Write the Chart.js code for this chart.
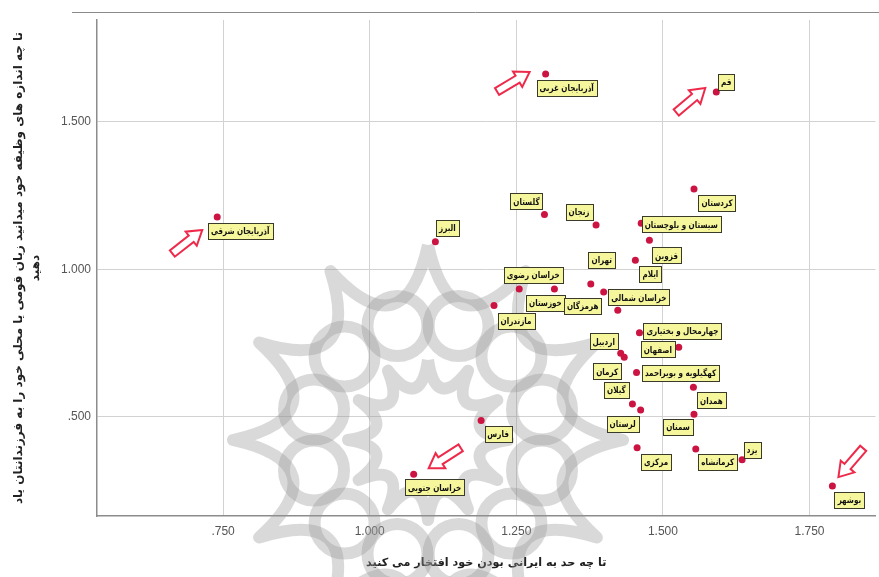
<!DOCTYPE html>
<html>
<head>
<meta charset="utf-8">
<title>نمودار پراکندگی استان‌ها</title>
<script src="https://cdn.jsdelivr.net/npm/chart.js"></script>
<style>
  html, body { margin: 0; padding: 0; background: #fff; }
</style>
</head>
<body>
<canvas id="scatterChart" width="879" height="577"></canvas>
<script>
// استان ها و مقادیر (خوانده شده از نمودار)
const provinces = [
  'آذربایجان غربی', 'قم', 'آذربایجان شرقی', 'البرز', 'گلستان', 'زنجان',
  'کردستان', 'سیستان و بلوچستان', 'قزوین', 'ایلام', 'تهران', 'خراسان رضوی',
  'خوزستان', 'هرمزگان', 'خراسان شمالی', 'مازندران', 'چهارمحال و بختیاری', 'اصفهان',
  'اردبیل', 'کرمان', 'کهگیلویه و بویراحمد', 'همدان', 'گیلان', 'لرستان',
  'سمنان', 'فارس', 'مرکزی', 'کرمانشاه', 'یزد', 'بوشهر', 'خراسان جنوبی'
];
// تا چه حد به ایرانی بودن خود افتخار می کنید
const prideValues = [
  1.300, 1.591, 0.740, 1.112, 1.298, 1.386,
  1.553, 1.463, 1.477, 1.453, 1.377, 1.255,
  1.315, 1.399, 1.423, 1.212, 1.460, 1.527,
  1.428, 1.434, 1.455, 1.552, 1.448, 1.462,
  1.553, 1.190, 1.456, 1.556, 1.635, 1.789, 1.075
];
// زبان قومی یا محلی
const languageValues = [
  1.662, 1.601, 1.177, 1.093, 1.186, 1.150,
  1.272, 1.156, 1.098, 1.031, 0.950, 0.933,
  0.933, 0.923, 0.861, 0.877, 0.785, 0.736,
  0.715, 0.702, 0.650, 0.600, 0.543, 0.523,
  0.509, 0.487, 0.395, 0.391, 0.354, 0.265, 0.305
];
const xTickValues = [0.75, 1.0, 1.25, 1.5, 1.75];
const xTickLabels = ['.750', '1.000', '1.250', '1.500', '1.750'];
const yTickValues = [0.5, 1.0, 1.5];
const yTickLabels = ['.500', '1.000', '1.500'];
const xTitle = 'تا چه حد به ایرانی بودن خود افتخار می کنید';
const yTitle = ['تا چه اندازه های وظیفه خود میدانید زبان قومی یا محلی خود را به فرزندانتان یاد', 'دهید'];
// استان هایی که با فلش مشخص شده اند
const arrowProvinces = ['آذربایجان غربی', 'قم', 'آذربایجان شرقی', 'خراسان جنوبی', 'بوشهر'];

// جابجایی برچسب ها نسبت به نقطه (پیکسل)
const labelShift = [
  [21, 14], [10, -10], [23, 14], [12, -14], [-18, -13], [-17, -13],
  [23, 14], [40, 1], [17, 15], [15, 14], [11, -24], [14, -14],
  [-9, 14], [-21, 14], [21, -13], [22, 15], [43, -2], [-21, 2],
  [-17, -12], [-17, 14], [44, 0], [18, 13], [-16, -14], [-18, 14],
  [-16, 13], [17, 13], [19, 14], [22, 13], [10, -10], [17, 14], [21, 13]
];
// فلش ها: نوک نسبت به نقطه و جهت
const arrowShape = {
  'آذربایجان غربی': { tip: [-16, -2], dir: [30, -18] },
  'قم': { tip: [-11, -4], dir: [26, -22] },
  'آذربایجان شرقی': { tip: [-15, 13], dir: [28, -22] },
  'خراسان جنوبی': { tip: [15, -6], dir: [-28, 18] },
  'بوشهر': { tip: [6, -9], dir: [-25, 29] }
};

const points = prideValues.map((x, i) => ({ x: x, y: languageValues[i] }));

const frameLine = {
  id: 'frameLine',
  beforeDraw(chart) {
    const ctx = chart.ctx;
    ctx.save();
    ctx.strokeStyle = '#8a8a8a';
    ctx.lineWidth = 1;
    ctx.beginPath();
    ctx.moveTo(72, 12.5);
    ctx.lineTo(879, 12.5);
    ctx.stroke();
    ctx.restore();
  }
};

// واترمارک خاکستری (گل اسلیمی)
const watermark = {
  id: 'watermark',
  beforeDatasetsDraw(chart) {
    const ctx = chart.ctx;
    const cx = 428, cy = 440, R = 195;
    ctx.save();
    ctx.strokeStyle = 'rgba(150,150,150,0.36)';
    ctx.lineWidth = 12;
    ctx.lineJoin = 'round';
    ctx.beginPath();
    for (let k = 0; k < 12; k++) {
      const a1 = -Math.PI / 2 + k * Math.PI / 6;
      const a2 = a1 + Math.PI / 6;
      const am = a1 + Math.PI / 12;
      const p1 = [cx + R * Math.cos(a1), cy + R * Math.sin(a1)];
      const p2 = [cx + R * Math.cos(a2), cy + R * Math.sin(a2)];
      if (k === 0) ctx.moveTo(p1[0], p1[1]);
      ctx.quadraticCurveTo(cx + 92 * Math.cos(am), cy + 92 * Math.sin(am), p2[0], p2[1]);
    }
    ctx.stroke();
    for (let k = 0; k < 12; k++) {
      const a = -Math.PI / 2 + Math.PI / 12 + k * Math.PI / 6;
      ctx.beginPath();
      ctx.arc(cx + 118 * Math.cos(a), cy + 118 * Math.sin(a), 30, 0, Math.PI * 2);
      ctx.stroke();
    }
    ctx.beginPath();
    for (let k = 0; k < 12; k++) {
      const a1 = -Math.PI / 2 + k * Math.PI / 6;
      const a2 = a1 + Math.PI / 6;
      const am = a1 + Math.PI / 12;
      const r = 80;
      const p1 = [cx + r * Math.cos(a1), cy + r * Math.sin(a1)];
      const p2 = [cx + r * Math.cos(a2), cy + r * Math.sin(a2)];
      if (k === 0) ctx.moveTo(p1[0], p1[1]);
      ctx.quadraticCurveTo(cx + 30 * Math.cos(am), cy + 30 * Math.sin(am), p2[0], p2[1]);
    }
    ctx.stroke();
    ctx.restore();
  }
};

const pointLabels = {
  id: 'pointLabels',
  afterDatasetsDraw(chart) {
    const ctx = chart.ctx;
    const meta = chart.getDatasetMeta(0);
    const squeeze = 0.8;
    ctx.save();
    ctx.font = 'bold 9px "DejaVu Sans"';
    ctx.textAlign = 'center';
    ctx.textBaseline = 'middle';
    meta.data.forEach((el, i) => {
      const cx = el.x + labelShift[i][0];
      const cy = el.y + labelShift[i][1];
      const w = Math.round(ctx.measureText(provinces[i]).width * squeeze + 6);
      const h = 16;
      const bx = Math.round(cx - w / 2) + 0.5, by = Math.round(cy - h / 2) + 0.5;
      ctx.fillStyle = '#f6f69c';
      ctx.fillRect(bx, by, w, h);
      ctx.strokeStyle = '#3a3a2a';
      ctx.lineWidth = 1;
      ctx.strokeRect(bx, by, w, h);
      ctx.save();
      ctx.translate(cx, cy + 1);
      ctx.scale(squeeze, 1);
      ctx.fillStyle = '#111';
      ctx.fillText(provinces[i], 0, 0);
      ctx.restore();
    });

    // فلش های قرمز
    ctx.strokeStyle = '#ee2a4a';
    ctx.lineWidth = 2;
    ctx.fillStyle = '#fff';
    arrowProvinces.forEach(name => {
      const i = provinces.indexOf(name);
      const el = meta.data[i];
      const s = arrowShape[name];
      const tx = el.x + s.tip[0], ty = el.y + s.tip[1];
      const ang = Math.atan2(s.dir[1], s.dir[0]);
      const L = 38;
      ctx.save();
      ctx.translate(tx, ty);
      ctx.rotate(ang);
      ctx.beginPath();
      ctx.moveTo(0, 0);
      ctx.lineTo(-14, -9);
      ctx.lineTo(-14, -4);
      ctx.lineTo(-L, -4);
      ctx.lineTo(-L, 4);
      ctx.lineTo(-14, 4);
      ctx.lineTo(-14, 9);
      ctx.closePath();
      ctx.fill();
      ctx.stroke();
      ctx.restore();
    });
    ctx.restore();
  }
};

new Chart(document.getElementById('scatterChart'), {
  type: 'scatter',
  data: {
    datasets: [{
      data: points,
      backgroundColor: '#cc1443',
      borderWidth: 0,
      pointRadius: 3.5,
      pointHoverRadius: 3.5
    }]
  },
  options: {
    responsive: false,
    animation: false,
    events: [],
    layout: { padding: { top: 20, right: 0, bottom: 0, left: 0 } },
    plugins: { legend: { display: false }, tooltip: { enabled: false } },
    scales: {
      x: {
        type: 'linear',
        min: 0.535,
        max: 1.8625,
        afterBuildTicks: s => { s.ticks = xTickValues.map(v => ({ value: v })); },
        afterFit: s => { s.height = 61; },
        grid: { color: '#d2d2d2', drawTicks: false },
        border: { color: '#8c8c8c', width: 1.5 },
        ticks: {
          padding: 8,
          color: '#555',
          autoSkip: false,
          maxRotation: 0,
          font: { family: 'Liberation Sans', size: 12 },
          callback: (v, i) => xTickLabels[i]
        },
        title: {
          display: true,
          text: xTitle,
          color: '#222',
          font: { family: 'DejaVu Sans', size: 11.2, weight: 'bold', lineHeight: 1.2 },
          padding: { top: 0, bottom: 7 }
        }
      },
      y: {
        type: 'linear',
        min: 0.1637,
        max: 1.845,
        afterBuildTicks: s => { s.ticks = yTickValues.map(v => ({ value: v })); },
        afterFit: s => { s.width = 97; },
        grid: { color: '#d2d2d2', drawTicks: false },
        border: { color: '#8c8c8c', width: 1.5 },
        ticks: {
          padding: 6,
          color: '#555',
          autoSkip: false,
          font: { family: 'Liberation Sans', size: 12 },
          callback: (v, i) => yTickLabels[i]
        },
        title: {
          display: true,
          text: yTitle,
          color: '#222',
          font: { family: 'DejaVu Sans', size: 12, weight: 'bold', lineHeight: 1.45 },
          padding: { top: 10, bottom: 0 }
        }
      }
    }
  },
  plugins: [frameLine, watermark, pointLabels]
});
</script>
</body>
</html>
